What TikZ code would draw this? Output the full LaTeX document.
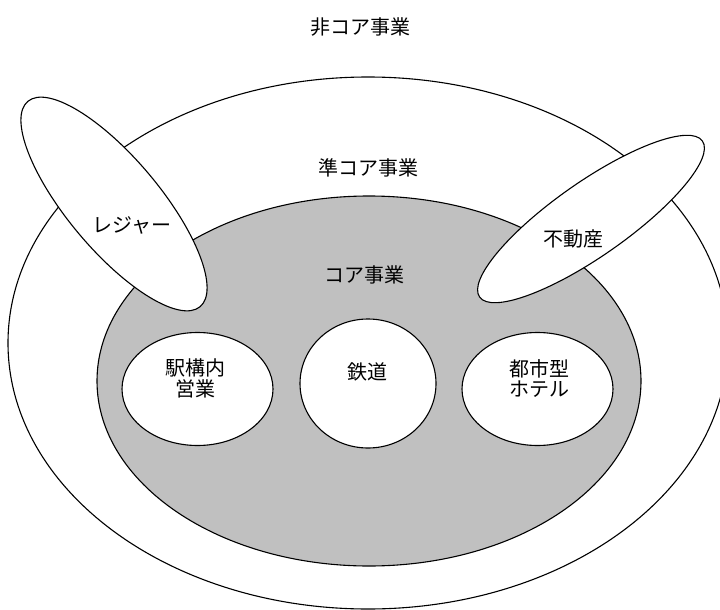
\documentclass[tikz,border=0pt]{standalone}
\usepackage{fontspec}
\setmainfont{Noto Sans CJK JP}
\definecolor{coregray}{RGB}{192,192,192}
\begin{document}
\begin{tikzpicture}[x=1pt,y=-1pt,
  outline/.style={draw=black,line width=1.1pt},
  whitearea/.style={outline,fill=white},
  greyarea/.style={outline,fill=coregray},
  lbl/.style={font=\fontsize{20}{20.5}\selectfont,inner sep=0pt,align=center}]
\useasboundingbox (0,0) rectangle (720,610);
\fill[white] (0,0) rectangle (720,610);
% outer (non-core) boundary
\draw[whitearea] (368,343) ellipse [x radius=360pt, y radius=266pt];
% core area
\draw[greyarea] (369,381) ellipse [x radius=272pt, y radius=185pt];
% core businesses
\draw[whitearea] (197.5,389) ellipse [x radius=75.5pt, y radius=56.5pt];
\draw[whitearea] (368,383.5) ellipse [x radius=68pt, y radius=64.5pt];
\draw[whitearea] (537.5,389) ellipse [x radius=75.5pt, y radius=56.5pt];
% leisure and real estate
\draw[whitearea] (114,204) ellipse [x radius=134pt, y radius=46pt, rotate=-50];
\draw[whitearea] (591,219) ellipse [x radius=136pt, y radius=37pt, rotate=35];
% labels
\node[lbl] (noncore) at (360,27) {非コア事業};
\node[lbl] (semicore) at (368.5,167.5) {準コア事業};
\node[lbl] (core) at (364.5,275) {コア事業};
\node[lbl] (leisure) at (132,225.5) {レジャー};
\node[lbl] (estate) at (573.5,238.5) {不動産};
\node[lbl] (station) at (195.5,378.5) {駅構内\\営業};
\node[lbl] (rail) at (367,371.5) {鉄道};
\node[lbl] (hotel) at (539,378.5) {都市型\\ホテル};
\end{tikzpicture}
\end{document}
